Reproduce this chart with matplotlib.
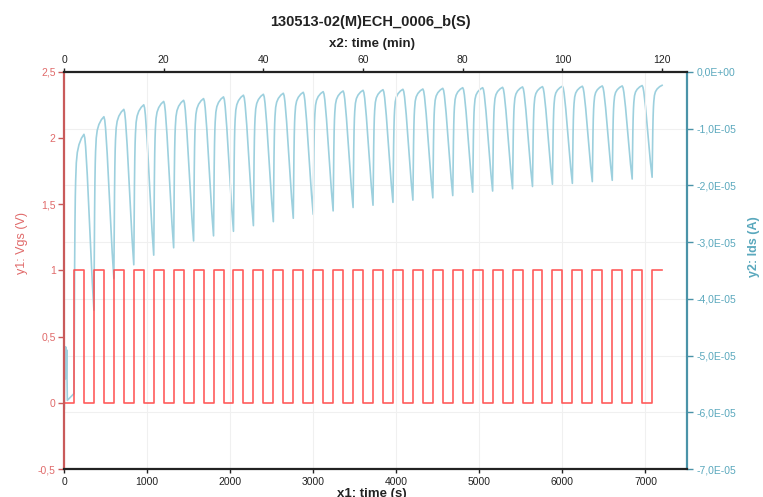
import matplotlib
matplotlib.use("Agg")
import matplotlib.pyplot as plt
from matplotlib.ticker import FuncFormatter, MultipleLocator

plt.rcParams['font.family'] = ['Liberation Sans', 'DejaVu Sans']

# --- datos ---
# Vgs: pulsos de 1 V, cada uno empieza en estos instantes (s) y dura 120 s
pulse_on = [120, 360, 600, 840, 1080, 1320, 1560, 1800, 2040, 2280,
            2520, 2760, 3000, 3240, 3480, 3720, 3960, 4200, 4440, 4680,
            4920, 5160, 5400, 5640, 5880, 6120, 6360, 6600, 6840, 7080]
pulse_width = 120
vgs_high = 1.0
t_end = 7200

# Ids al inicio (ruido antes del primer pulso), en unidades de 1E-05 A
ids_start_t = [0, 3, 6, 10, 14, 18, 22, 26, 32, 40, 80, 120]
ids_start_v = [-4.50, -5.95, -5.40, -5.37, -4.85, -5.41, -4.85, -5.40, -4.90, -5.79, -5.73, -5.67]

# Ids maximo al final de cada pulso (1E-05 A)
ids_peak = [-1.10, -0.79, -0.66, -0.58, -0.52, -0.50, -0.47, -0.44, -0.41, -0.394,
            -0.376, -0.359, -0.348, -0.336, -0.324, -0.313, -0.306, -0.301, -0.289, -0.278,
            -0.278, -0.271, -0.264, -0.259, -0.252, -0.252, -0.247, -0.247, -0.240, -0.236]
# Ids minimo al final de cada periodo en 0 V (1E-05 A)
ids_trough = [-4.20, -3.64, -3.40, -3.23, -3.10, -2.98, -2.89, -2.81, -2.71, -2.64,
              -2.58, -2.51, -2.45, -2.39, -2.35, -2.30, -2.26, -2.22, -2.18, -2.12,
              -2.10, -2.06, -2.02, -1.98, -1.965, -1.934, -1.911, -1.888, -1.857]

# forma de un ciclo (fraccion del salto)
rise_dt = [4, 8, 12, 16, 20, 28, 40, 60, 90, 120]
rise_frac = [0.25, 0.50, 0.66, 0.76, 0.82, 0.89, 0.93, 0.96, 0.985, 1.0]
fall_dt = [10, 20, 40, 60, 80, 100, 120]
fall_frac = [0.02, 0.07, 0.23, 0.43, 0.64, 0.84, 1.0]

# --- series ---
vgs_t = [0]
vgs_v = [0.0]
for t0 in pulse_on:
    t1 = min(t0 + pulse_width, t_end)
    vgs_t += [t0, t0, t1]
    vgs_v += [0.0, vgs_high, vgs_high]
    if t1 < t_end:
        vgs_t.append(t1)
        vgs_v.append(0.0)

ids_t = list(ids_start_t)
ids_v = list(ids_start_v)
low = ids_start_v[-1]
for k, t0 in enumerate(pulse_on):
    hi = ids_peak[k]
    for dt, fr in zip(rise_dt, rise_frac):
        ids_t.append(t0 + dt)
        ids_v.append(low + (hi - low) * fr)
    if k < len(ids_trough):
        low = ids_trough[k]
        for dt, fr in zip(fall_dt, fall_frac):
            ids_t.append(t0 + pulse_width + dt)
            ids_v.append(hi + (low - hi) * fr)
ids_v = [v * 1e-5 for v in ids_v]

# --- colores ---
RED_LINE = '#ff4a4a'
RED_AX = '#c95a5a'
RED_TXT = '#e06a6a'
BLUE_LINE = '#9dd0de'
TEAL_AX = '#4a93a8'
TEAL_TXT = '#5aa8bd'

fig = plt.figure(figsize=(7.63, 4.97), dpi=100)
ax = fig.add_axes([0.0839, 0.0563, 0.8165, 0.799])
ax2 = ax.twinx()
ax.set_zorder(ax2.get_zorder() + 1)
ax.patch.set_visible(False)

ax2.plot(ids_t, ids_v, color=BLUE_LINE, lw=1.2)
ax.plot(vgs_t, vgs_v, color=RED_LINE, lw=1.2, alpha=0.9)

ax.set_xlim(0, 7500)
ax.set_ylim(-0.5, 2.5)
ax2.set_ylim(-7e-5, 0)

ax.xaxis.set_major_locator(MultipleLocator(1000))
ax.yaxis.set_major_locator(MultipleLocator(0.5))
ax2.yaxis.set_major_locator(MultipleLocator(1e-5))

ax.yaxis.set_major_formatter(FuncFormatter(lambda v, p: f"{v:g}".replace('.', ',')))
ax2.yaxis.set_major_formatter(FuncFormatter(lambda v, p: f"{v:.1E}".replace('.', ',')))

ax.grid(axis='x', color='#f0f0f0', lw=0.8)
ax2.grid(axis='y', color='#f0f0f0', lw=0.8)

for s in ['top', 'bottom']:
    ax.spines[s].set_color('#222222')
    ax.spines[s].set_linewidth(1.6)
    ax2.spines[s].set_visible(False)
ax.spines['left'].set_color(RED_AX)
ax.spines['left'].set_linewidth(1.6)
ax.spines['right'].set_visible(False)
ax2.spines['left'].set_visible(False)
ax2.spines['right'].set_color(TEAL_AX)
ax2.spines['right'].set_linewidth(1.6)

ax.tick_params(axis='x', colors='#222222', labelsize=7.5, length=3, width=1, pad=3)
ax.tick_params(axis='y', colors=RED_AX, labelcolor=RED_TXT, labelsize=7.5,
               length=4, width=1, pad=2)
ax2.tick_params(axis='y', colors=TEAL_AX, labelcolor=TEAL_TXT, labelsize=7.5,
                length=4, width=1, pad=3)

top = ax.secondary_xaxis('top', functions=(lambda s: s / 60.0, lambda m: m * 60.0))
top.xaxis.set_major_locator(MultipleLocator(20))
top.tick_params(colors='#222222', labelsize=7.5, length=3, width=1, pad=2)
top.spines['top'].set_visible(False)

ax.set_ylabel("y1: Vgs (V)", color=RED_TXT, fontsize=9)
ax.yaxis.set_label_coords(-0.058, 0.569)
ax2.set_ylabel("y2: Ids (A)", color=TEAL_TXT, fontsize=9, fontweight='bold')
ax2.yaxis.set_label_coords(1.098, 0.559)

fig.text(0.486, 1 - 22 / 497, "130513-02(M)ECH_0006_b(S)", ha='center', va='center',
         fontsize=10.5, fontweight='bold', color='#222222')
fig.text(0.487, 1 - 44 / 497, "x2: time (min)", ha='center', va='center',
         fontsize=9.5, fontweight='bold', color='#222222')
fig.text(0.487, 1 - 494 / 497, "x1: time (s)", ha='center', va='center',
         fontsize=9.5, fontweight='bold', color='#222222')

fig.savefig("out.png", dpi=100)
